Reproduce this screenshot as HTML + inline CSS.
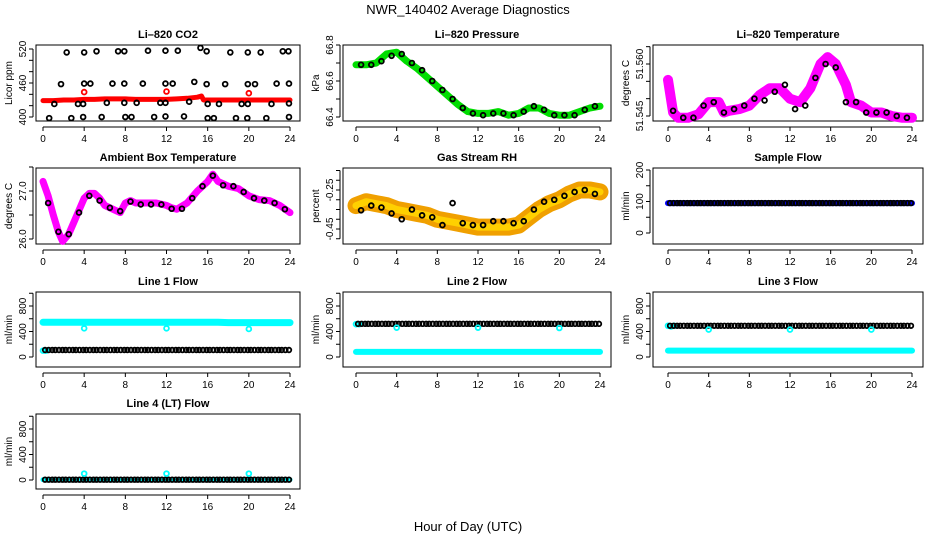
<!DOCTYPE html>
<html><head><meta charset="utf-8">
<style>
html,body{margin:0;padding:0;background:#fff;}
svg{display:block;font-family:"Liberation Sans",Arial,sans-serif;}
</style></head>
<body>
<svg id="chart" width="936" height="540" viewBox="0 0 936 540" xmlns="http://www.w3.org/2000/svg">
<text x="468" y="14" font-size="13" text-anchor="middle">NWR_140402  Average Diagnostics</text>
<text x="468" y="531" font-size="13" text-anchor="middle">Hour of Day (UTC)</text>
</svg>
<script>
// ---------- data ----------
const hourTicks = [0,4,8,12,16,20,24];
const halfHours = [0.5,1.5,2.5,3.5,4.5,5.5,6.5,7.5,8.5,9.5,10.5,11.5,12.5,13.5,14.5,15.5,16.5,17.5,18.5,19.5,20.5,21.5,22.5,23.5];

// CO2
const co2BlackX = [0.6,1.1,1.75,2.3,2.75,3.4,3.9,4.0,3.9,4.0,4.6,5.2,5.7,6.2,6.75,7.3,7.9,7.9,7.9,8.0,8.6,9.1,9.7,10.2,10.8,11.4,11.9,11.9,11.9,11.9,12.6,13.1,13.7,14.2,14.7,15.3,15.9,15.9,16.0,16.0,16.6,17.1,17.7,18.2,18.75,19.3,19.9,19.9,19.9,19.85,20.6,21.15,21.7,22.2,22.7,23.3,23.85,23.9,23.9,23.9];
const co2BlackY = [398,423,458,514,398,423,423,514,400,459,459,516,400,425,459,516,516,459,425,400,400,425,459,517,400,425,459,517,425,401,459,517,401,427,462,522,516,458,423,398,398,423,458,514,398,423,514,458,423,398,458,514,398,423,459,516,516,459,424,400];
const co2RedX = [0,1,2,3,4,5,6,7,8,9,10,11,12,13,14,15,15.4,15.6,16,17,18,19,20,21,22,23,24];
const co2RedY = [429,429,430,430,431,431,432,432,432,431,431,431,431,432,433,435,437,430,430,430,430,430,430,430,430,430,430];
const co2OutX = [4,12,20];
const co2OutY = [444,445,442];

// Pressure
const presX = [0,1,2,3,4,5,6,7,8,9,10,11,12,13,14,15,16,17,18,19,20,21,22,23,24];
const presY = [66.69,66.69,66.70,66.75,66.76,66.71,66.67,66.62,66.57,66.52,66.47,66.43,66.42,66.42,66.43,66.41,66.42,66.45,66.45,66.42,66.41,66.41,66.43,66.45,66.46];
const presBlack = [66.69,66.69,66.71,66.74,66.75,66.70,66.66,66.60,66.55,66.50,66.45,66.42,66.41,66.42,66.42,66.41,66.43,66.46,66.44,66.41,66.41,66.41,66.44,66.46];

// Li-820 temperature
const tempX = [0,0.5,1,2,3,4,5,5.5,6,7,8,9,10,11,12,13,14,15,15.7,16.5,17.5,18,19,20,21,22,23,24];
const tempY = [51.5554,51.546,51.5445,51.5445,51.5455,51.549,51.549,51.546,51.5465,51.547,51.548,51.551,51.553,51.553,51.550,51.549,51.553,51.560,51.562,51.560,51.554,51.549,51.548,51.546,51.546,51.545,51.5445,51.5445];
const tempBlack = [51.5465,51.5445,51.5445,51.548,51.549,51.546,51.547,51.548,51.550,51.5495,51.552,51.554,51.547,51.548,51.556,51.560,51.559,51.549,51.549,51.546,51.546,51.546,51.545,51.5445];

// Ambient box temperature
const ambX = [0,0.5,1,1.5,1.9,2.5,3,3.5,4,4.5,5,5.5,6,7,7.5,8,8.5,9,10,11,12,12.5,13,14,15,16,16.5,17,18,19,20,21,22,23,24];
const ambY = [27.2,26.9,26.5,26.15,25.95,26.1,26.35,26.6,26.85,26.95,26.95,26.85,26.7,26.6,26.55,26.75,26.8,26.75,26.75,26.75,26.7,26.65,26.62,26.75,27.0,27.2,27.35,27.2,27.1,27.05,26.9,26.82,26.8,26.7,26.55];
const ambBlack = [26.75,26.15,26.1,26.55,26.9,26.8,26.65,26.58,26.78,26.72,26.72,26.72,26.63,26.63,26.85,27.1,27.32,27.12,27.1,26.98,26.85,26.8,26.75,26.62];

// Gas stream RH
const rhX = [0,1,2,3,4,5,6,7,8,9,10,11,12,13,14,15,16,17,18,19,20,21,22,23,24];
const rhY = [-0.33,-0.31,-0.32,-0.33,-0.35,-0.36,-0.37,-0.38,-0.40,-0.41,-0.42,-0.43,-0.44,-0.44,-0.44,-0.44,-0.43,-0.39,-0.35,-0.32,-0.30,-0.27,-0.25,-0.25,-0.26];
const rhBlack = [-0.354,-0.33,-0.34,-0.37,-0.40,-0.35,-0.38,-0.39,-0.43,-0.317,-0.42,-0.43,-0.43,-0.41,-0.41,-0.42,-0.41,-0.35,-0.31,-0.30,-0.28,-0.26,-0.25,-0.27];

// Flows (hourly values, hours 0..23)
const sampleBlack = [95,95,95,95,95,95,95,95,95,95,95,95,95,95,95,95,95,95,95,95,95,95,95,95];
const sampleBlue  = [95,95,95,95,95,95,95,95,95,95,95,95,95,95,95,95,95,95,95,95,95,95,95,95];
const line1Black = [110,110,110,110,110,110,110,110,110,110,110,110,110,110,110,110,110,110,110,110,110,110,110,110];
const line1Cyan  = [545,545,545,545,545,545,545,545,545,545,545,545,545,545,545,545,545,545,540,540,540,540,540,540];
const line2Black = [520,520,520,520,520,520,520,520,520,520,520,520,520,520,520,520,520,520,520,520,520,520,520,520];
const line2Cyan  = [80,80,80,80,80,80,80,80,80,80,80,80,80,80,80,80,80,80,80,80,80,80,80,80];
const line3Black = [490,490,490,490,490,490,490,490,490,490,490,490,490,490,490,490,490,490,490,490,490,490,490,490];
const line3Cyan  = [100,100,100,100,100,100,100,100,100,100,100,100,100,100,100,100,100,100,100,100,100,100,100,100];
const line4Black = [5,5,5,5,5,5,5,5,5,5,5,5,5,5,5,5,5,5,5,5,5,5,5,5];
const line4Cyan  = [5,5,5,5,5,5,5,5,5,5,5,5,5,5,5,5,5,5,5,5,5,5,5,5];
const outHours = [4,12,20];
const line1Out = [450,450,440];
const line2Out = [460,460,455];
const line3Out = [430,430,430];
const line4Out = [100,100,100];

// ---------- drawing ----------
const svg = document.getElementById('chart');
const NS = 'http://www.w3.org/2000/svg';
function mk(tag, attrs, parent){
  const e = document.createElementNS(NS, tag);
  for (const k in attrs) e.setAttribute(k, attrs[k]);
  (parent||svg).appendChild(e);
  return e;
}
const cols = [{l:36,r:300,x0:43,x24:290},{l:343,r:611,x0:356,x24:600},{l:653,r:923,x0:668,x24:912}];
const rows = [{t:45,b:121},{t:168,b:244},{t:292,b:367},{t:414,b:489}];

function panel(name, title, ytitle, ci, ri, v1, p1, v2, p2, yticks, ylabels){
  const c = cols[ci], r = rows[ri];
  const g = mk('g', {});
  
  
  const sx = h => c.x0 + (c.x24 - c.x0) * h / 24;
  const sy = v => p1 + (p2 - p1) * (v - v1) / (v2 - v1);
  const box = mk('rect', {x:c.l, y:r.t, width:c.r-c.l, height:r.b-r.t, fill:'none', stroke:'#000', 'stroke-width':1}, g);
  
  
  const t = mk('text', {x:(c.l+c.r)/2, y:r.t-7, 'font-size':11, 'font-weight':'bold', 'text-anchor':'middle'}, g);
  t.textContent = title;
  
  
  const ax = r.b + 6;
  const xa = mk('g', {}, g);
  
  
  mk('line', {x1:sx(0), x2:sx(24), y1:ax, y2:ax, stroke:'#000'}, xa);
  hourTicks.forEach(h => {
    mk('line', {x1:sx(h), x2:sx(h), y1:ax, y2:ax+4, stroke:'#000'}, xa);
    const tt = mk('text', {x:sx(h), y:ax+15, 'font-size':10, 'text-anchor':'middle'}, xa);
    tt.textContent = h;
  });
  const ya = mk('g', {}, g);
  
  
  const ayx = c.l - 3;
  const ps = yticks.map(sy);
  mk('line', {x1:ayx, x2:ayx, y1:Math.min(...ps), y2:Math.max(...ps), stroke:'#000'}, ya);
  yticks.forEach(v => mk('line', {x1:ayx-4, x2:ayx, y1:sy(v), y2:sy(v), stroke:'#000'}, ya));
  ylabels.forEach(v => {
    const y = sy(v), x = ayx - 7;
    const tt = mk('text', {x:x, y:y, 'font-size':10, 'text-anchor':'middle', transform:`rotate(-90 ${x} ${y})`}, ya);
    tt.textContent = v;
  });
  const yt = mk('text', {x:c.l-24, y:(r.t+r.b)/2, 'font-size':10, 'text-anchor':'middle', transform:`rotate(-90 ${c.l-24} ${(r.t+r.b)/2})`}, g);
  yt.textContent = ytitle;
  
  
  return {g, sx, sy};
}
function thick(p, xs, ys, color, w, name){
  const d = xs.map((h,i) => (i?'L':'M') + p.sx(h).toFixed(1) + ' ' + p.sy(ys[i]).toFixed(1)).join(' ');
  const e = mk('path', {d:d, fill:'none', stroke:color, 'stroke-width':w, 'stroke-linejoin':'round', 'stroke-linecap':'round'}, p.g);
  
  
}
function pts(p, xs, ys, color, name, rad){
  xs.forEach((h,i) => {
    const e = mk('circle', {cx:p.sx(h), cy:p.sy(ys[i]), r:rad||2.4, fill:'none', stroke:color, 'stroke-width':1.8}, p.g);
    
    
  });
}
function hourlyPts(p, vals, color, name){
  vals.forEach((v,i) => {
    [0.2,0.55,0.9].forEach(o => {
      const e = mk('circle', {cx:p.sx(i+o), cy:p.sy(v), r:2.3, fill:'none', stroke:color, 'stroke-width':1.8}, p.g);
      
      
    });
  });
}
function hourlyLine(p, vals, color, w, name){
  const xs = vals.map((v,i)=>i).concat([24]);
  const ys = vals.concat([vals[vals.length-1]]);
  thick(p, xs, ys, color, w, name);
}

// CO2
let p = panel('co2-panel','Li\u2013820 CO2','Licor ppm',0,0,520,49,400,117,[400,420,440,460,480,500,520],['400','460','520']);
thick(p, co2RedX, co2RedY, '#ff0000', 5, 'co2-red-series');
pts(p, co2OutX, co2OutY, '#ff0000', 'co2-red-point');
pts(p, co2BlackX, co2BlackY, '#000', 'co2-black-point');

// Pressure
p = panel('pressure-panel','Li\u2013820 Pressure','kPa',1,0,66.8,45,66.4,117,[66.4,66.5,66.6,66.7,66.8],['66.4','66.6','66.8']);
thick(p, presX, presY, '#00dd00', 7, 'pressure-green-series');
pts(p, halfHours, presBlack, '#000', 'pressure-black-point');

// Temperature
p = panel('temperature-panel','Li\u2013820 Temperature','degrees C',2,0,51.560,64,51.545,116,[51.545,51.550,51.555,51.560,51.565],['51.545','51.560']);
thick(p, tempX, tempY, '#ff00ff', 10, 'temperature-magenta-series');
pts(p, halfHours, tempBlack, '#000', 'temperature-black-point');

// Ambient
p = panel('ambient-panel','Ambient Box Temperature','degrees C',0,1,27.0,191,26.0,239,[26.0,26.5,27.0,27.5],['26.0','27.0']);
thick(p, ambX, ambY, '#ff00ff', 7, 'ambient-magenta-series');
pts(p, halfHours, ambBlack, '#000', 'ambient-black-point');

// RH
p = panel('rh-panel','Gas Stream RH','percent',1,1,-0.25,190,-0.45,229,[-0.5,-0.45,-0.4,-0.35,-0.3,-0.25,-0.2,-0.15],['-0.45','-0.25']);
thick(p, rhX, rhY, '#f0a000', 17, 'rh-orange-series');
thick(p, rhX, rhY, '#ffd000', 7, 'rh-yellow-series');
pts(p, halfHours, rhBlack, '#000', 'rh-black-point');

// Sample flow
p = panel('sample-flow-panel','Sample Flow','ml/min',2,1,200,170,0,233,[0,50,100,150,200],['0','100','200']);
hourlyLine(p, sampleBlue, '#0000ff', 6, 'sample-flow-blue-series');
hourlyPts(p, sampleBlack, '#000', 'sample-flow-black-point');

const flowTicks = [0,200,400,600,800,1000];
const flowLabels = ['0','400','800'];
p = panel('line1-flow-panel','Line 1 Flow','ml/min',0,2,800,306,0,357,flowTicks,flowLabels);
hourlyLine(p, line1Cyan, '#00ffff', 7, 'line1-cyan-series');
pts(p, [0,0.3], [100,100], '#00ffff', 'line1-cyan-point');
hourlyPts(p, line1Black, '#000', 'line1-black-point');
pts(p, outHours, line1Out, '#00ffff', 'line1-cyan-outlier');

p = panel('line2-flow-panel','Line 2 Flow','ml/min',1,2,800,306,0,357,flowTicks,flowLabels);
hourlyLine(p, line2Cyan, '#00ffff', 6, 'line2-cyan-series');
pts(p, [0,0.3], [515,515], '#00ffff', 'line2-cyan-point');
hourlyPts(p, line2Black, '#000', 'line2-black-point');
pts(p, outHours, line2Out, '#00ffff', 'line2-cyan-outlier');

p = panel('line3-flow-panel','Line 3 Flow','ml/min',2,2,800,306,0,357,flowTicks,flowLabels);
hourlyLine(p, line3Cyan, '#00ffff', 6, 'line3-cyan-series');
pts(p, [0,0.3,0.6], [490,480,490], '#00ffff', 'line3-cyan-point');
hourlyPts(p, line3Black, '#000', 'line3-black-point');
pts(p, outHours, line3Out, '#00ffff', 'line3-cyan-outlier');

p = panel('line4-flow-panel','Line 4 (LT) Flow','ml/min',0,3,800,429,0,480,flowTicks,flowLabels);
hourlyLine(p, line4Cyan, '#00ffff', 5, 'line4-cyan-series');
hourlyPts(p, line4Black, '#000', 'line4-black-point');
pts(p, outHours, line4Out, '#00ffff', 'line4-cyan-outlier');
</script>
</body></html>
